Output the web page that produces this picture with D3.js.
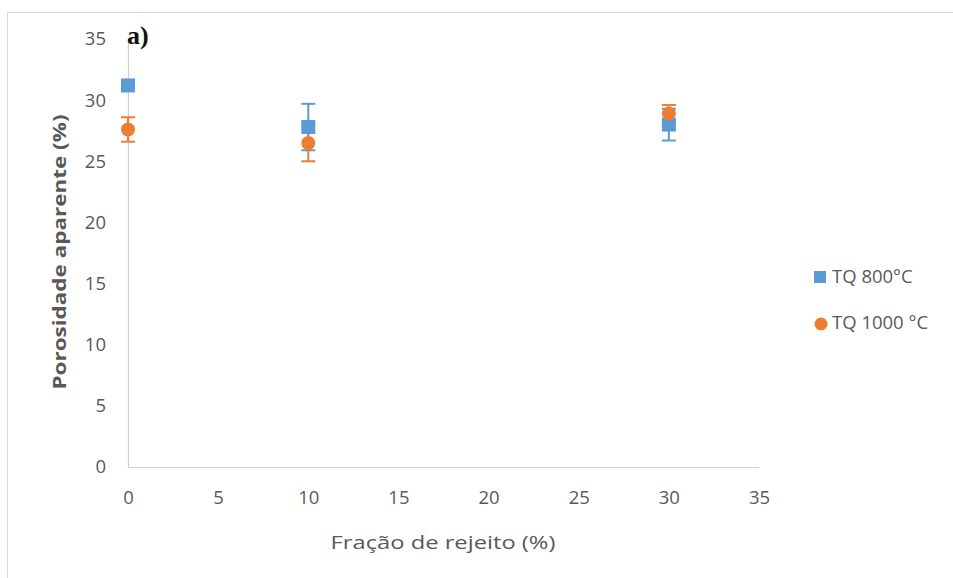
<!DOCTYPE html>
<html>
<head>
<meta charset="utf-8">
<script src="https://cdn.jsdelivr.net/npm/d3@7"></script>
<style>
  html, body { margin: 0; padding: 0; background: #fff; }
  svg { display: block; }
</style>
</head>
<body>
<svg id="chart" width="953" height="578"></svg>
<script>
// Apparent porosity vs. tailings fraction, two firing temperatures
const fractions = [0, 10, 30];
const seriesNames = ["TQ 800°C", "TQ 1000 °C"];
const tq800 = [31.2, 27.8, 28.0];
const tq800Err = [0, 1.9, 1.3];
const tq1000 = [27.6, 26.5, 28.9];
const tq1000Err = [1.0, 1.5, 0.7];
const xTicks = [0, 5, 10, 15, 20, 25, 30, 35];
const yTicks = [0, 5, 10, 15, 20, 25, 30, 35];

const colors = ["#5B9BD5", "#ED7D31"];
const font = "'Open Sans', 'Liberation Sans', sans-serif";
const textColor = "#595959";

const svg = d3.select("#chart");

// outer frame (top and left edges)
svg.append("path")
  .attr("d", "M7.5,578 V12.5 H953")
  .attr("fill", "none").attr("stroke", "#d9d9d9").attr("stroke-width", 1);

const x = d3.scaleLinear().domain([0, 35]).range([128, 759]);
const y = d3.scaleLinear().domain([0, 35]).range([467, 39]);

// axis lines
svg.append("line").attr("x1", x(0)).attr("x2", x(35)).attr("y1", y(0) + 0.5).attr("y2", y(0) + 0.5)
  .attr("stroke", "#d0d0d0").attr("stroke-width", 1.2);
svg.append("line").attr("x1", x(0) + 0.5).attr("x2", x(0) + 0.5).attr("y1", y(0)).attr("y2", y(35))
  .attr("stroke", "#d0d0d0").attr("stroke-width", 1.2);

// tick labels
const xAxis = d3.axisBottom(x).tickValues(xTicks).tickSize(0).tickPadding(24);
const gx = svg.append("g").attr("transform", `translate(0,${y(0)})`).call(xAxis);
gx.select(".domain").remove();
gx.selectAll("text").attr("font-family", font).attr("font-size", 18.5).attr("fill", textColor);

const yAxis = d3.axisLeft(y).tickValues(yTicks).tickSize(0).tickPadding(22);
const gy = svg.append("g").attr("transform", `translate(${x(0)},0)`).call(yAxis);
gy.select(".domain").remove();
gy.selectAll("text").attr("font-family", font).attr("font-size", 18.5).attr("fill", textColor);

// axis titles
svg.append("text").attr("x", 443).attr("y", 549).attr("text-anchor", "middle")
  .attr("font-family", font).attr("font-size", 18).attr("fill", textColor)
  .attr("textLength", 225).attr("lengthAdjust", "spacingAndGlyphs")
  .text("Fração de rejeito (%)");
svg.append("text").attr("transform", "translate(66,252) rotate(-90)").attr("text-anchor", "middle")
  .attr("font-family", font).attr("font-size", 18).attr("font-weight", "bold").attr("fill", textColor)
  .attr("textLength", 275).attr("lengthAdjust", "spacingAndGlyphs")
  .text("Porosidade aparente (%)");

// panel label
svg.append("text").attr("x", 127).attr("y", 44)
  .attr("font-family", "'Liberation Serif', 'DejaVu Serif', serif").attr("font-size", 26)
  .attr("font-weight", "bold").attr("fill", "#111").text("a)");

const series = [
  { name: seriesNames[0], vals: tq800, err: tq800Err, color: colors[0], shape: "square" },
  { name: seriesNames[1], vals: tq1000, err: tq1000Err, color: colors[1], shape: "circle" }
];

// error bars for all series first, markers on top
const errLayer = svg.append("g");
const markLayer = svg.append("g");

series.forEach(s => {
  fractions.forEach((f, i) => {
    const cx = x(f), v = s.vals[i], e = s.err[i];
    if (e > 0) {
      const y1 = y(v + e), y2 = y(v - e);
      errLayer.append("line").attr("x1", cx).attr("x2", cx).attr("y1", y1).attr("y2", y2)
        .attr("stroke", s.color).attr("stroke-width", 2);
      [y1, y2].forEach(yy => errLayer.append("line").attr("x1", cx - 7).attr("x2", cx + 7)
        .attr("y1", yy).attr("y2", yy).attr("stroke", s.color).attr("stroke-width", 2));
    }
  });
  fractions.forEach((f, i) => {
    const cx = x(f), cy = y(s.vals[i]);
    if (s.shape === "square") {
      markLayer.append("rect").attr("x", cx - 7).attr("y", cy - 7).attr("width", 14).attr("height", 14).attr("fill", s.color);
    } else {
      markLayer.append("circle").attr("cx", cx).attr("cy", cy).attr("r", 7).attr("fill", s.color);
    }
  });
});

// legend
const legend = svg.append("g");
series.forEach((s, i) => {
  const ly = 277 + i * 46;
  if (s.shape === "square") {
    legend.append("rect").attr("x", 814).attr("y", ly - 6).attr("width", 12).attr("height", 12).attr("fill", s.color);
  } else {
    legend.append("circle").attr("cx", 821).attr("cy", ly + 1).attr("r", 6.5).attr("fill", s.color);
  }
  legend.append("text").attr("x", 832).attr("y", ly).attr("dy", "0.35em")
    .attr("font-family", font).attr("font-size", 18.5).attr("fill", textColor).text(s.name);
});
</script>
</body>
</html>
